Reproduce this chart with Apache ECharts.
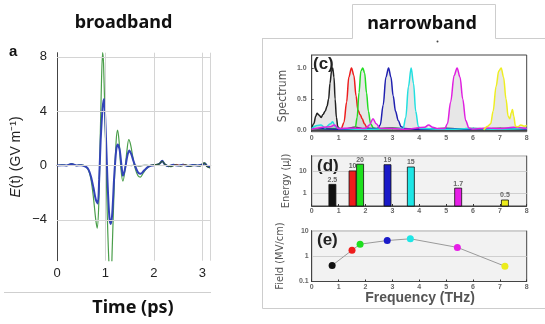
<!DOCTYPE html>
<html lang="en">
<head>
<meta charset="UTF-8">
<title>broadband / narrowband</title>
<script src="https://cdn.jsdelivr.net/npm/echarts@6/dist/echarts.min.js"></script>
<style>
    html, body { margin: 0; padding: 0; background: #fff; }
    #chart { width: 545px; height: 324px; }
</style>
</head>
<body>
<div id="chart"></div>
<script>
// ---- (a) broadband waveform, E(t) in GV/m vs time in ps ----
var fieldTicks = [-4, 0, 4, 8];
var timeTicks = [1, 2, 3];
var waveGreen = [
    [0, 0], [0.1, 0.05], [0.2, 0], [0.3, 0.15], [0.4, 0], [0.5, 0.05], [0.6, -0.1], [0.65, -0.35],
    [0.7, -1.0], [0.75, -2.3], [0.8, -4.0], [0.83, -4.6], [0.86, -3.0], [0.88, 0], [0.91, 5.0],
    [0.94, 8.3], [0.96, 7.5], [1.0, 2.0], [1.04, -4.0], [1.08, -7.8], [1.11, -8.6], [1.14, -6.0],
    [1.18, -1.5], [1.22, 1.8], [1.25, 2.6], [1.28, 1.8], [1.32, -0.3], [1.36, -1.15], [1.4, -0.4],
    [1.44, 1.0], [1.48, 1.9], [1.52, 1.5], [1.57, 0.5], [1.62, -0.3], [1.67, -0.75], [1.72, -0.85],
    [1.78, -0.55], [1.85, -0.2], [1.95, 0], [2.05, 0.05], [2.12, 0.15], [2.17, 0.35], [2.22, 0.1],
    [2.3, -0.05], [2.4, 0.05], [2.5, 0], [2.6, 0.08], [2.7, -0.05], [2.8, 0.05], [2.9, 0],
    [3.0, 0.1], [3.05, 0.2], [3.1, -0.05], [3.17, -0.15]
];
var waveBlue = [
    [0, 0], [0.1, 0.03], [0.2, 0], [0.3, 0.12], [0.4, 0], [0.5, 0.03], [0.6, -0.1], [0.65, -0.3],
    [0.7, -0.8], [0.75, -1.6], [0.8, -2.5], [0.84, -2.8], [0.87, -1.0], [0.9, 1.8], [0.94, 4.2],
    [0.97, 4.9], [1.0, 3.0], [1.04, -1.0], [1.08, -3.8], [1.11, -4.3], [1.14, -3.5], [1.18, -0.8],
    [1.22, 1.1], [1.25, 1.55], [1.29, 1.2], [1.33, 0], [1.36, -0.75], [1.4, -0.3], [1.45, 0.7],
    [1.49, 1.1], [1.53, 0.85], [1.58, 0.3], [1.63, -0.2], [1.68, -0.55], [1.73, -0.6], [1.8, -0.35],
    [1.88, -0.1], [1.95, 0], [2.05, 0.05], [2.12, 0.15], [2.17, 0.35], [2.22, 0.1], [2.3, -0.05],
    [2.4, 0.05], [2.5, 0], [2.6, 0.06], [2.7, -0.04], [2.8, 0.04], [2.9, 0], [3.0, 0.08],
    [3.05, 0.15], [3.1, -0.05], [3.17, -0.1]
];
var waveDark = [
    [1.52, 0], [1.6, 0.02], [1.7, -0.03], [1.8, 0.02], [1.9, 0], [2.0, 0.05], [2.1, 0.1], [2.17, 0.3],
    [2.24, 0.05], [2.35, -0.08], [2.45, 0.05], [2.55, -0.05], [2.65, 0.05], [2.75, -0.06],
    [2.85, 0.03], [2.95, -0.04], [3.03, 0.2], [3.1, -0.1], [3.17, -0.2]
];
var waveRed = [[2.4, 0], [2.47, 0.08], [2.55, -0.02], [2.62, 0.05], [2.7, 0]];

// ---- (c) normalised spectra vs frequency (THz) ----
var specBlack = [
    [0, 0.02], [0.08, 0.1], [0.15, 0.22], [0.2, 0.27], [0.27, 0.24], [0.35, 0.2], [0.42, 0.25],
    [0.5, 0.3], [0.57, 0.38], [0.63, 0.5], [0.68, 0.75], [0.74, 0.95], [0.78, 1.0], [0.83, 0.85],
    [0.87, 0.5], [0.92, 0.2], [0.97, 0.05], [1.03, 0.02], [1.2, 0.01], [1.6, 0.04], [2.0, 0.01],
    [2.5, 0.02], [3.0, 0.03], [3.5, 0.01], [4.0, 0.02], [5.0, 0.01], [6.0, 0.02], [7.0, 0.01], [8.0, 0.02]
];
var specRed = [
    [0, 0.01], [0.5, 0.02], [1.0, 0.01], [1.1, 0.02], [1.2, 0.12], [1.3, 0.45], [1.38, 0.85],
    [1.48, 1.0], [1.57, 0.88], [1.65, 0.55], [1.72, 0.32], [1.8, 0.25], [1.88, 0.18], [1.96, 0.1],
    [2.05, 0.04], [2.15, 0.02], [2.5, 0.01], [3.0, 0.02], [4.0, 0.01], [5.0, 0.02], [6.0, 0.01],
    [7.0, 0.02], [8.0, 0.01]
];
var specGreen = [
    [0, 0.01], [1.0, 0.02], [1.5, 0.01], [1.62, 0.03], [1.69, 0.2], [1.76, 0.6], [1.83, 0.95],
    [1.9, 1.0], [1.97, 0.92], [2.04, 0.6], [2.11, 0.3], [2.19, 0.1], [2.3, 0.03], [2.5, 0.01],
    [3.0, 0.02], [4.0, 0.01], [5.0, 0.02], [6.0, 0.01], [7.0, 0.02], [8.0, 0.01]
];
var specBlue = [
    [0, 0.02], [1.0, 0.01], [2.0, 0.02], [2.45, 0.02], [2.55, 0.08], [2.66, 0.4], [2.76, 0.85],
    [2.86, 1.0], [2.95, 0.85], [3.03, 0.55], [3.12, 0.3], [3.22, 0.15], [3.33, 0.05], [3.45, 0.02],
    [4.0, 0.01], [5.0, 0.02], [6.0, 0.01], [7.0, 0.02], [8.0, 0.01]
];
var specCyan = [
    [0, 0.02], [0.2, 0.07], [0.35, 0.08], [0.5, 0.03], [0.7, 0.1], [0.78, 0.13], [0.88, 0.05],
    [1.0, 0.02], [2.0, 0.01], [3.0, 0.02], [3.4, 0.02], [3.5, 0.2], [3.6, 0.7], [3.7, 1.0],
    [3.79, 0.75], [3.87, 0.3], [3.97, 0.05], [4.05, 0.02], [5.0, 0.01], [6.0, 0.02], [7.0, 0.01], [8.0, 0.02]
];
var specMagenta = [
    [0, 0.01], [0.7, 0.05], [0.85, 0.08], [1.0, 0.02], [1.5, 0.03], [2.0, 0.02], [2.15, 0.08],
    [2.28, 0.18], [2.4, 0.1], [2.55, 0.02], [3.0, 0.02], [3.5, 0.01], [4.2, 0.04], [4.35, 0.08],
    [4.5, 0.04], [4.7, 0.02], [4.95, 0.02], [5.05, 0.1], [5.17, 0.45], [5.3, 0.88], [5.41, 1.0],
    [5.52, 0.85], [5.62, 0.5], [5.73, 0.15], [5.85, 0.03], [6.0, 0.01], [6.5, 0.03], [7.0, 0.02],
    [7.5, 0.04], [8.0, 0.02]
];
var specYellow = [
    [6.4, 0], [6.55, 0.06], [6.66, 0.1], [6.75, 0.3], [6.86, 0.7], [6.96, 0.95], [7.05, 1.0],
    [7.14, 0.85], [7.23, 0.5], [7.31, 0.22], [7.37, 0.18], [7.43, 0.28], [7.47, 0.33], [7.52, 0.22],
    [7.58, 0.06], [7.68, 0.05], [7.78, 0.08], [7.9, 0.06], [8.0, 0.07]
];
var spectrumTicks = [0, 0.5, 1];

// ---- (d) pulse energy (uJ) and (e) peak field (MV/cm) ----
var energyFreq = [0.77, 1.52, 1.8, 2.82, 3.69, 5.45, 7.19];
var energyValues = [2.5, 10, 20, 19, 15, 1.7, 0.5];
var energyLabels = ['2.5', '10', '20', '19', '15', '1.7', '0.5'];
var fieldFreq = [0.76, 1.5, 1.8, 2.81, 3.67, 5.42, 7.19];
var fieldValues = [0.43, 1.7, 2.95, 4.1, 4.8, 2.2, 0.4];
var bandColors = ['#111111', '#ee1c1c', '#1ee01e', '#1a1ac8', '#1ee6e6', '#e61ee6', '#ecec1c'];

var energyMin = 0.27, energyMax = 48;

var gridGray = '#d4d4d4';
var tinyLabel = { fontSize: 7, color: '#666', fontWeight: 'bold', fontFamily: 'Liberation Sans, Arial, sans-serif' };

function decadeOnly(v) {
    var l = Math.log10(v);
    if (Math.abs(l - Math.round(l)) > 1e-6) return '';
    return String(Math.pow(10, Math.round(l)));
}

function freqAxis(idx, margin) {
    return {
        type: 'value', gridIndex: idx, min: 0, max: 8, interval: 1,
        axisLine: { show: true, lineStyle: { color: '#444', width: 1 } },
        axisTick: { show: true, inside: true, length: 2, lineStyle: { color: '#333' } },
        axisLabel: Object.assign({ margin: margin }, tinyLabel),
        splitLine: { show: false }
    };
}

function specSeries(data, color) {
    return {
        type: 'line', xAxisIndex: 1, yAxisIndex: 1, data: data,
        smooth: 0.35, smoothMonotone: 'x', showSymbol: false, silent: true,
        lineStyle: { color: color, width: 1.5 },
        areaStyle: { color: 'rgba(150,150,150,0.33)' }
    };
}

var chart = echarts.init(document.getElementById('chart'), null, { renderer: 'canvas' });

var fieldPoints = fieldFreq.map(function (f, i) {
    return { value: [f, fieldValues[i]], itemStyle: { color: bandColors[i] } };
});

var gridMarks = fieldTicks.map(function (v) { return { yAxis: v }; })
    .concat(timeTicks.map(function (v) { return { xAxis: v }; }))
    .concat([{ xAxis: 3.17 }]);

chart.setOption({
    animation: false,
    backgroundColor: '#fff',
    grid: [
        { left: 57, top: 52.7, width: 153.7, height: 208 },
        { left: 311.7, top: 55, width: 215, height: 76.7, show: true, borderColor: '#444', borderWidth: 1, backgroundColor: '#fff' },
        { left: 311.7, top: 155.7, width: 215, height: 50.3, show: true, borderColor: '#444', borderWidth: 1, backgroundColor: '#f2f2f2' },
        { left: 311.7, top: 230.7, width: 215, height: 50.8, show: true, borderColor: '#444', borderWidth: 1, backgroundColor: '#f2f2f2' }
    ],
    xAxis: [
        {
            type: 'value', gridIndex: 0, min: 0, max: 3.17, interval: 1,
            axisLine: { lineStyle: { color: '#444' } },
            axisTick: { inside: true, length: 3, lineStyle: { color: '#444' } },
            axisLabel: { fontSize: 13, color: '#222', margin: 6, showMaxLabel: false, fontFamily: 'Liberation Sans, Arial, sans-serif' },
            splitLine: { show: false }
        },
        freqAxis(1, 3),
        freqAxis(2, 2),
        freqAxis(3, 2)
    ],
    yAxis: [
        {
            type: 'value', gridIndex: 0, min: -7, max: 8.3,
            axisLine: { show: true, lineStyle: { color: '#444' } },
            axisTick: { show: true, inside: true, length: 3, customValues: fieldTicks, lineStyle: { color: '#444' } },
            axisLabel: {
                fontSize: 13, color: '#222', margin: 10, customValues: fieldTicks,
                fontFamily: 'Liberation Sans, Arial, sans-serif',
                formatter: function (v) { return String(v).replace('-', '\u2212'); }
            },
            splitLine: { show: false }
        },
        {
            type: 'value', gridIndex: 1, min: -0.03, max: 1.21,
            axisLine: { show: true, lineStyle: { color: '#444' } },
            axisTick: { show: true, inside: true, length: 2, customValues: spectrumTicks },
            axisLabel: Object.assign({ margin: 5, customValues: spectrumTicks, formatter: function (v) { return v.toFixed(1); } }, tinyLabel),
            splitLine: { show: false }
        },
        {
            type: 'log', logBase: 10, gridIndex: 2, min: energyMin, max: energyMax,
            axisLine: { show: true, lineStyle: { color: '#444' } },
            axisTick: { show: false },
            axisLabel: Object.assign({ margin: 5, formatter: decadeOnly }, tinyLabel),
            splitLine: { show: true, lineStyle: { color: '#cfcfcf' } }
        },
        {
            type: 'log', logBase: 10, gridIndex: 3, min: 0.1, max: 10,
            axisLine: { show: true, lineStyle: { color: '#444' } },
            axisTick: { show: false },
            axisLabel: Object.assign({ margin: 3, formatter: decadeOnly }, tinyLabel),
            splitLine: { show: true, lineStyle: { color: '#cfcfcf' } }
        }
    ],
    series: [
        // light grid of panel a, drawn as mark lines under the waveforms
        {
            type: 'line', xAxisIndex: 0, yAxisIndex: 0, data: [[0, 0], [3.17, 0]], z: 1,
            showSymbol: false, silent: true, lineStyle: { color: gridGray, width: 1 },
            markLine: {
                silent: true, symbol: 'none', label: { show: false }, animation: false,
                lineStyle: { color: gridGray, type: 'solid', width: 1 },
                data: gridMarks
            }
        },
        { type: 'line', xAxisIndex: 0, yAxisIndex: 0, data: waveGreen, z: 2, showSymbol: false, smooth: 0.3, lineStyle: { color: '#4a9e4a', width: 1.2 } },
        { type: 'line', xAxisIndex: 0, yAxisIndex: 0, data: waveBlue, z: 3, showSymbol: false, smooth: 0.3, lineStyle: { color: '#3344b8', width: 2 } },
        { type: 'line', xAxisIndex: 0, yAxisIndex: 0, data: waveRed, z: 3, showSymbol: false, smooth: 0.3, lineStyle: { color: '#d04040', width: 1 } },
        { type: 'line', xAxisIndex: 0, yAxisIndex: 0, data: waveDark, z: 4, showSymbol: false, smooth: 0.3, lineStyle: { color: '#2f5a3c', width: 1.2 } },

        specSeries(specBlack, '#222222'),
        specSeries(specRed, '#ee1c1c'),
        specSeries(specGreen, '#22dd22'),
        specSeries(specBlue, '#2020b0'),
        specSeries(specCyan, '#22e0e0'),
        specSeries(specMagenta, '#e020e0'),
        specSeries(specYellow, '#eeee22'),

        {
            type: 'custom', xAxisIndex: 2, yAxisIndex: 2, silent: true,
            data: energyFreq.map(function (f, i) { return [f, energyValues[i]]; }),
            encode: { x: 0, y: 1 },
            renderItem: function (params, api) {
                var top = api.coord([api.value(0), api.value(1)]);
                var base = api.coord([api.value(0), energyMin]);
                var w = 7;
                return {
                    type: 'group',
                    children: [
                        {
                            type: 'rect',
                            shape: { x: top[0] - w / 2, y: top[1], width: w, height: base[1] - top[1] },
                            style: { fill: bandColors[params.dataIndex], stroke: '#111', lineWidth: 0.8 }
                        },
                        {
                            type: 'text',
                            style: {
                                text: energyLabels[params.dataIndex], x: top[0], y: top[1] - 1,
                                align: 'center', verticalAlign: 'bottom',
                                fontSize: 7, fontWeight: 'bold', fill: '#666',
                                fontFamily: 'Liberation Sans, Arial, sans-serif'
                            }
                        }
                    ]
                };
            }
        },

        {
            type: 'line', xAxisIndex: 3, yAxisIndex: 3, data: fieldPoints, silent: true,
            symbol: 'circle', symbolSize: 7, showSymbol: true,
            lineStyle: { color: '#9a9a9a', width: 1 }
        }
    ],
    graphic: [
        // panel frames
        { type: 'line', silent: true, shape: { x1: 4, y1: 292.5, x2: 211, y2: 292.5 }, style: { stroke: '#cfcfcf', lineWidth: 1 } },
        { type: 'polyline', silent: true, shape: { points: [[262, 38.5], [352.5, 38.5], [352.5, 4.5], [495.5, 4.5], [495.5, 38.5], [545, 38.5]] }, style: { stroke: '#cdcdcd', lineWidth: 1, fill: null } },
        { type: 'polyline', silent: true, shape: { points: [[262.5, 38.5], [262.5, 308.5], [545, 308.5]] }, style: { stroke: '#cdcdcd', lineWidth: 1, fill: null } },
        { type: 'circle', silent: true, shape: { cx: 437.5, cy: 41.5, r: 1 }, style: { fill: '#444' } },

        // titles
        { type: 'text', silent: true, x: 123.5, y: 22.5, style: { text: 'broadband', align: 'center', verticalAlign: 'middle', fontSize: 18, fontWeight: 'bold', fontFamily: 'Noto Sans, sans-serif', fill: '#111' } },
        { type: 'text', silent: true, x: 422, y: 24, style: { text: 'narrowband', align: 'center', verticalAlign: 'middle', fontSize: 18, fontWeight: 'bold', fontFamily: 'Noto Sans, sans-serif', fill: '#111' } },
        { type: 'text', silent: true, x: 133, y: 308, style: { text: 'Time (ps)', align: 'center', verticalAlign: 'middle', fontSize: 18, fontWeight: 'bold', fontFamily: 'Noto Sans, sans-serif', fill: '#111' } },
        { type: 'text', silent: true, x: 9, y: 52, style: { text: 'a', align: 'left', verticalAlign: 'middle', fontSize: 15, fontWeight: 'bold', fontFamily: 'Liberation Sans, Arial, sans-serif', fill: '#111' } },

        // axis titles
        {
            type: 'text', silent: true, x: 16, y: 157, rotation: Math.PI / 2,
            style: {
                text: '{i|E}(t) (GV m\u207B\u00B9)', align: 'center', verticalAlign: 'middle',
                fontSize: 14, fontFamily: 'Liberation Sans, Arial, sans-serif', fill: '#222',
                rich: { i: { fontStyle: 'italic', fontSize: 14, fontFamily: 'Liberation Sans, Arial, sans-serif', fill: '#222' } }
            }
        },
        { type: 'text', silent: true, x: 283, y: 96, rotation: Math.PI / 2, style: { text: 'Spectrum', align: 'center', verticalAlign: 'middle', fontSize: 12, fontFamily: 'Liberation Sans Narrow, DejaVu Sans Condensed, sans-serif', fill: '#555' } },
        { type: 'text', silent: true, x: 286, y: 181, rotation: Math.PI / 2, style: { text: 'Energy (\u03BCJ)', align: 'center', verticalAlign: 'middle', fontSize: 11, fontFamily: 'Liberation Sans Narrow, DejaVu Sans Condensed, sans-serif', fill: '#555' } },
        { type: 'text', silent: true, x: 280, y: 256, rotation: Math.PI / 2, style: { text: 'Field (MV/cm)', align: 'center', verticalAlign: 'middle', fontSize: 11, fontFamily: 'Liberation Sans Narrow, DejaVu Sans Condensed, sans-serif', fill: '#555' } },
        { type: 'text', silent: true, x: 420, y: 298, style: { text: 'Frequency (THz)', align: 'center', verticalAlign: 'middle', fontSize: 14, fontWeight: 'bold', fontFamily: 'Liberation Sans, Arial, sans-serif', fill: '#555' } },

        // panel letters
        { type: 'text', silent: true, x: 313, y: 64, style: { text: '(c)', align: 'left', verticalAlign: 'middle', fontSize: 17, fontWeight: 'bold', fontFamily: 'Liberation Sans, Arial, sans-serif', fill: '#222' } },
        { type: 'text', silent: true, x: 317, y: 166, style: { text: '(d)', align: 'left', verticalAlign: 'middle', fontSize: 17, fontWeight: 'bold', fontFamily: 'Liberation Sans, Arial, sans-serif', fill: '#222' } },
        { type: 'text', silent: true, x: 317, y: 240, style: { text: '(e)', align: 'left', verticalAlign: 'middle', fontSize: 17, fontWeight: 'bold', fontFamily: 'Liberation Sans, Arial, sans-serif', fill: '#222' } }
    ]
});
</script>
</body>
</html>
